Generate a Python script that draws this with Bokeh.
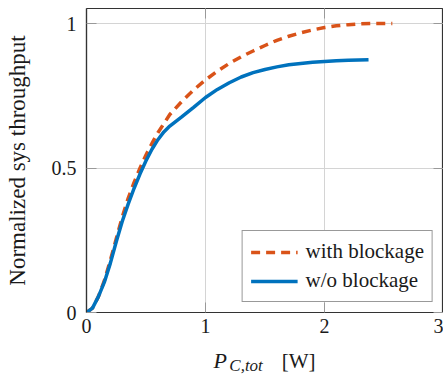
from bokeh.plotting import figure
from bokeh.layouts import column
from bokeh.models import (Range1d, LinearAxis, FixedTicker, Legend, LegendItem,
                          CustomLabelingPolicy)
from bokeh.core.properties import value
from bokeh.embed import file_html
from bokeh.resources import INLINE

# data
x_with = [0, 0.05, 0.1, 0.15, 0.2, 0.25, 0.3, 0.35, 0.4, 0.45, 0.5, 0.55, 0.6, 0.7, 0.8, 0.9,
          1.0, 1.1, 1.2, 1.3, 1.4, 1.5, 1.6, 1.7, 1.8, 1.9, 2.0, 2.1, 2.2, 2.3, 2.4, 2.57]
y_with = [0, 0.015, 0.055, 0.11, 0.18, 0.255, 0.33, 0.395, 0.45, 0.5, 0.545, 0.585, 0.622, 0.685,
          0.73, 0.77, 0.805, 0.835, 0.862, 0.885, 0.905, 0.924, 0.942, 0.956, 0.968, 0.978,
          0.986, 0.992, 0.996, 0.999, 1.0, 1.0]
x_wo = [0, 0.05, 0.1, 0.15, 0.2, 0.25, 0.3, 0.35, 0.4, 0.45, 0.5, 0.55, 0.6, 0.65, 0.7, 0.8, 0.9,
        1.0, 1.1, 1.2, 1.3, 1.4, 1.5, 1.6, 1.7, 1.8, 1.9, 2.0, 2.1, 2.2, 2.37]
y_wo = [0, 0.015, 0.055, 0.105, 0.17, 0.245, 0.315, 0.375, 0.43, 0.48, 0.525, 0.565, 0.598, 0.625,
        0.645, 0.677, 0.71, 0.744, 0.772, 0.795, 0.815, 0.83, 0.841, 0.85, 0.857, 0.862, 0.866,
        0.869, 0.871, 0.873, 0.875]
x_ticks = [0, 1, 2, 3]
y_ticks = [0, 0.5, 1]
y_tick_labels = {0: "0", 0.5: "0.5", 1: "1"}
series_names = ["with blockage", "w/o blockage"]
y_title = "Normalized sys throughput"
x_title_parts = ["P", "C,tot", "[W]"]

ORANGE = "#D95319"
BLUE = "#0072BD"
FONT = "Liberation Serif"
TXT = "#1a1a1a"

p = figure(width=443, height=342, output_backend="svg", toolbar_location=None,
           x_range=Range1d(0, 3), y_range=Range1d(0, 1.052),
           min_border_left=86, min_border_right=0, min_border_top=8, min_border_bottom=30)
p.background_fill_color = "white"
p.border_fill_color = "white"
p.outline_line_color = "#333333"
p.outline_line_width = 1.2

p.xaxis.ticker = FixedTicker(ticks=x_ticks)
p.yaxis.ticker = FixedTicker(ticks=y_ticks)
p.yaxis.major_label_overrides = y_tick_labels

for ax in [p.xaxis[0], p.yaxis[0]]:
    ax.major_tick_in = 10
    ax.major_tick_out = 0
    ax.minor_tick_line_color = None
    ax.major_tick_line_color = "#999999"
    ax.axis_line_color = "#333333"
    ax.axis_line_width = 1.2
    ax.major_label_text_font = FONT
    ax.major_label_text_font_size = "20px"
    ax.major_label_text_color = TXT
    ax.axis_label_text_font = FONT
    ax.axis_label_text_font_style = "normal"
    ax.axis_label_text_font_size = "23px"
    ax.axis_label_text_color = TXT

p.xaxis.major_label_standoff = 6
p.yaxis.major_label_standoff = 10
p.yaxis.axis_label = y_title
p.yaxis.axis_label_standoff = 19

# inward ticks on the top and right sides (no labels)
hide_all = "for (const i of indices) indices.unset(i)"
top_ax = LinearAxis(ticker=FixedTicker(ticks=x_ticks))
right_ax = LinearAxis(ticker=FixedTicker(ticks=y_ticks))
for ax in [top_ax, right_ax]:
    ax.major_tick_in = 10
    ax.major_tick_out = 0
    ax.minor_tick_line_color = None
    ax.major_tick_line_color = "#999999"
    ax.axis_line_color = None
    ax.major_label_text_font_size = "0px"
    ax.major_label_standoff = 0
    ax.major_label_policy = CustomLabelingPolicy(code=hide_all)
p.add_layout(top_ax, "above")
p.add_layout(right_ax, "right")

p.xgrid.ticker = FixedTicker(ticks=x_ticks)
p.ygrid.ticker = FixedTicker(ticks=y_ticks)
p.grid.grid_line_color = "#d4d4d4"
p.grid.grid_line_width = 1

r_with = p.line(x_with, y_with, line_color=ORANGE, line_width=3.5, line_dash="9 6")
r_wo = p.line(x_wo, y_wo, line_color=BLUE, line_width=3.5)

legend = Legend(items=[LegendItem(label=series_names[0], renderers=[r_with]),
                       LegendItem(label=series_names[1], renderers=[r_wo])],
                location="bottom_right", margin=10, padding=8, spacing=4,
                glyph_width=47, glyph_height=22, label_height=22, label_standoff=8,
                label_text_font=FONT, label_text_font_size="21px", label_text_color=TXT,
                border_line_color="#333333", border_line_width=1,
                background_fill_alpha=1.0)
p.add_layout(legend, "center")

# x-axis title P_{C,tot} [W], drawn in a strip below the plot
q = figure(width=443, height=33, output_backend="svg", toolbar_location=None,
           x_range=p.x_range, y_range=Range1d(0, 1),
           min_border_left=86, min_border_right=0, min_border_top=0, min_border_bottom=0)
q.axis.visible = False
q.grid.visible = False
q.outline_line_color = None
q.background_fill_color = "white"
q.border_fill_color = "white"
q.text(x=[1.067], y=[0.45], text=[x_title_parts[0]], text_font=value(FONT),
       text_font_size="22px", text_font_style="italic", text_color=TXT,
       text_baseline="alphabetic", text_align="left")
q.text(x=[1.2], y=[0.31], text=[x_title_parts[1]], text_font=value(FONT),
       text_font_size="17px", text_font_style="italic", text_color=TXT,
       text_baseline="alphabetic", text_align="left")
q.text(x=[1.64], y=[0.45], text=[x_title_parts[2]], text_font=value(FONT),
       text_font_size="21px", text_color=TXT,
       text_baseline="alphabetic", text_align="left")

layout = column(p, q, spacing=0)
open("out.html", "w").write(file_html(layout, INLINE))
